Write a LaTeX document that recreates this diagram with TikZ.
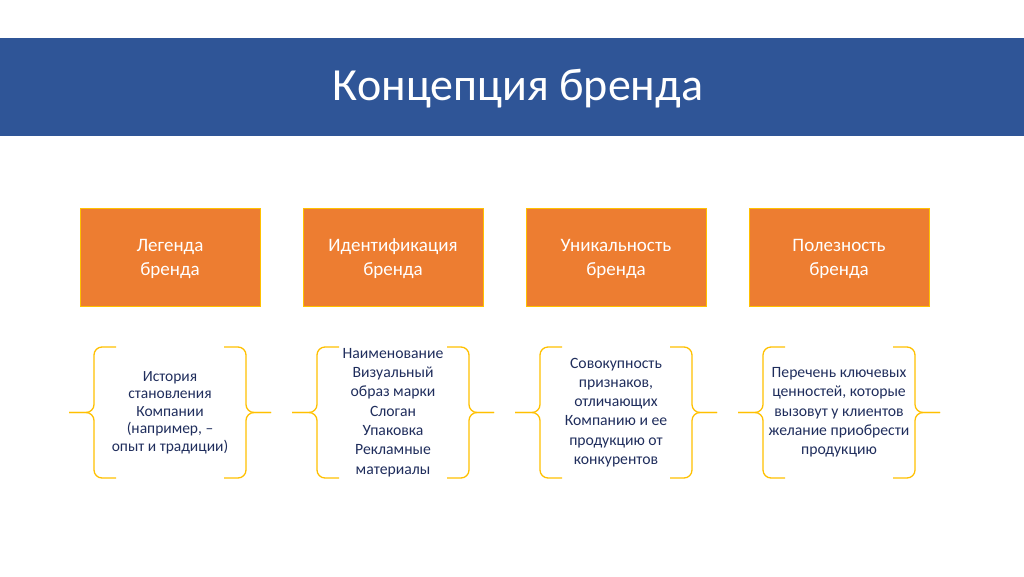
\documentclass[tikz,border=0pt]{standalone}
\usepackage{fontspec}
\setmainfont{Carlito}
\usetikzlibrary{positioning,calc}
\definecolor{barblue}{HTML}{2F5597}
\definecolor{boxorange}{HTML}{ED7D31}
\definecolor{rimgold}{HTML}{FFC000}
\definecolor{inknavy}{HTML}{1F2D5C}

\begin{document}
\begin{tikzpicture}
[x=1pt,y=-1pt,
 every node/.style={inner sep=0pt,outer sep=0pt},
 bar/.style={rectangle,fill=barblue,minimum width=1024pt,minimum height=98pt},
 head/.style={rectangle,fill=boxorange,draw=rimgold,line width=0.8pt,minimum width=180pt,minimum height=98pt,text=white,align=center,font=\fontsize{19}{24}\selectfont},
 desc/.style={rectangle,minimum width=152pt,minimum height=131pt,text=inknavy,align=center,font=\fontsize{15.7}{19.3}\selectfont},
 brc/.style={draw=rimgold,line width=1.3pt,rounded corners=8pt}]
\useasboundingbox (0,0) rectangle (1024,576);
\node[bar] (bar) at (512,87) {};
\node[text=white,font=\fontsize{46}{54}\selectfont] (title) at (518,89) {Концепция бренда};
\node[head] (b1) at (170,257)                  {\strut Легенда\\бренда};
\node[head] (b2) [on grid,right=223pt of b1] {\strut Идентификация\\бренда};
\node[head] (b3) [on grid,right=223pt of b2] {\strut Уникальность\\бренда};
\node[head] (b4) [on grid,right=223pt of b3] {\strut Полезность\\бренда};
\node[desc,font=\fontsize{15.5}{17.5}\selectfont] (d1) [on grid,below=155.5pt of b1]
  {История\\становления\\Компании\\(например, --\\опыт и традиции)};
\node[desc] (d2) [on grid,below=155.5pt of b2]
  {Наименование\\Визуальный\\образ марки\\Слоган\\Упаковка\\Рекламные\\материалы};
\node[desc] (d3) [on grid,below=155.5pt of b3]
  {Совокупность\\признаков,\\отличающих\\Компанию и ее\\продукцию от\\конкурентов};
\node[desc] (d4) [on grid,below=155.5pt of b4]
  {Перечень ключевых\\ценностей, которые\\вызовут у клиентов\\желание приобрести\\продукцию};

% braces round the descriptions
\draw[brc] ($(d1.north west)+(22,0)$) -- (d1.north west) -- (d1.west) -- ++(-25,0);
\draw[brc] ($(d1.south west)+(22,0)$) -- (d1.south west) -- (d1.west) -- ++(-25,0);
\draw[brc] ($(d1.north east)+(-22,0)$) -- (d1.north east) -- (d1.east) -- ++(25,0);
\draw[brc] ($(d1.south east)+(-22,0)$) -- (d1.south east) -- (d1.east) -- ++(25,0);
\draw[brc] ($(d2.north west)+(22,0)$) -- (d2.north west) -- (d2.west) -- ++(-25,0);
\draw[brc] ($(d2.south west)+(22,0)$) -- (d2.south west) -- (d2.west) -- ++(-25,0);
\draw[brc] ($(d2.north east)+(-22,0)$) -- (d2.north east) -- (d2.east) -- ++(25,0);
\draw[brc] ($(d2.south east)+(-22,0)$) -- (d2.south east) -- (d2.east) -- ++(25,0);
\draw[brc] ($(d3.north west)+(22,0)$) -- (d3.north west) -- (d3.west) -- ++(-25,0);
\draw[brc] ($(d3.south west)+(22,0)$) -- (d3.south west) -- (d3.west) -- ++(-25,0);
\draw[brc] ($(d3.north east)+(-22,0)$) -- (d3.north east) -- (d3.east) -- ++(25,0);
\draw[brc] ($(d3.south east)+(-22,0)$) -- (d3.south east) -- (d3.east) -- ++(25,0);
\draw[brc] ($(d4.north west)+(22,0)$) -- (d4.north west) -- (d4.west) -- ++(-25,0);
\draw[brc] ($(d4.south west)+(22,0)$) -- (d4.south west) -- (d4.west) -- ++(-25,0);
\draw[brc] ($(d4.north east)+(-22,0)$) -- (d4.north east) -- (d4.east) -- ++(25,0);
\draw[brc] ($(d4.south east)+(-22,0)$) -- (d4.south east) -- (d4.east) -- ++(25,0);
\end{tikzpicture}
\end{document}
